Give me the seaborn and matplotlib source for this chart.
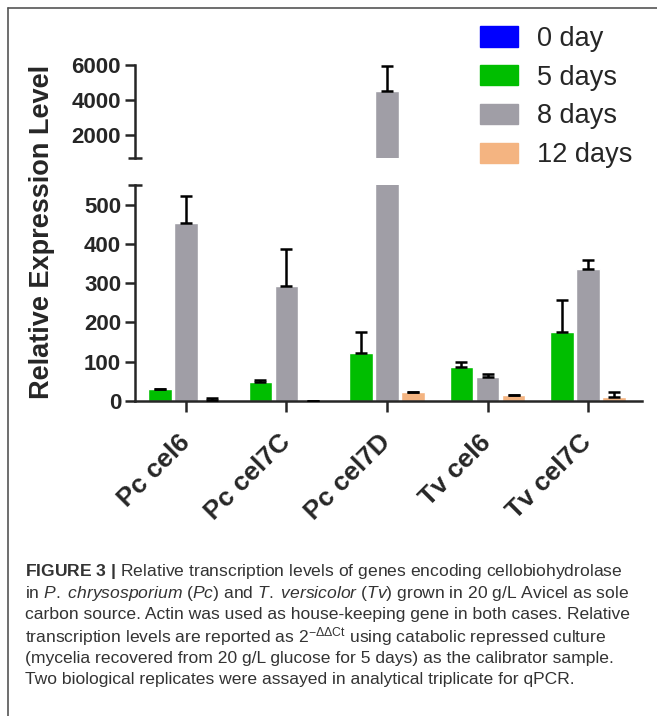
import numpy as np
import pandas as pd
import matplotlib
matplotlib.use("Agg")
import matplotlib.pyplot as plt
import seaborn as sns
from matplotlib.patches import Patch
from matplotlib.lines import Line2D
from matplotlib.ticker import FixedLocator

# ---- data -------------------------------------------------------------
GENES = ["Pc cel6", "Pc cel7C", "Pc cel7D", "Tv cel6", "Tv cel7C"]
DAYS = ["0 day", "5 days", "8 days", "12 days"]
COLORS = ["#0000FF", "#00BE00", "#A09EA6", "#F4B481"]

# relative expression (2^-ddCt); day 0 is the calibrator level
DAY5 = [30, 49, 121, 87, 176]
DAY8 = [453, 294, 4500, 60, 335]
DAY12 = [3, 1, 24, 15, 11]
# upper error (SD)
DAY5_ERR = [1, 4, 55, 13, 81]
DAY8_ERR = [69, 92, 1450, 10, 25]
DAY12_ERR = [5, 0, 0, 1.5, 13]

LOW_TICKS = [0, 100, 200, 300, 400, 500]
HIGH_TICKS = [2000, 4000, 6000]

CAPTION = [
    r"$\bf{FIGURE}$ $\bf{3}$ $\bf{|}$ Relative transcription levels of genes encoding cellobiohydrolase",
    r"in $\it{P.}$ $\it{chrysosporium}$ ($\it{Pc}$) and $\it{T.}$ $\it{versicolor}$ ($\it{Tv}$) grown in 20 g/L Avicel as sole",
    "carbon source. Actin was used as house-keeping gene in both cases. Relative",
    r"transcription levels are reported as 2$^{-\Delta\Delta\mathrm{Ct}}$ using catabolic repressed culture",
    "(mycelia recovered from 20 g/L glucose for 5 days) as the calibrator sample.",
    "Two biological replicates were assayed in analytical triplicate for qPCR.",
]

# ---- style ------------------------------------------------------------
sns.set_style("ticks")
plt.rcParams["font.family"] = ["Liberation Sans", "DejaVu Sans"]
plt.rcParams["mathtext.fontset"] = "custom"
plt.rcParams["mathtext.rm"] = "Liberation Sans"
plt.rcParams["mathtext.it"] = "Liberation Sans:italic"
plt.rcParams["mathtext.bf"] = "Liberation Sans:bold"

W, H = 657, 716
fig = plt.figure(figsize=(W / 100, H / 100), dpi=100)
fig.patch.set_facecolor("white")

left, right = 135 / W, 642 / W
ax_low = fig.add_axes([left, 1 - 401 / H, right - left, (401 - 185) / H])
ax_high = fig.add_axes([left, 1 - 158 / H, right - left, (158 - 65) / H])

df = pd.DataFrame({
    "gene": GENES * 3,
    "day": [DAYS[1]] * 5 + [DAYS[2]] * 5 + [DAYS[3]] * 5,
    "value": DAY5 + DAY8 + DAY12,
})
errs = [DAY5_ERR, DAY8_ERR, DAY12_ERR]
vals = [DAY5, DAY8, DAY12]

LW = 1.8
for ax in (ax_low, ax_high):
    sns.barplot(data=df, x="gene", y="value", hue="day", hue_order=DAYS[1:],
                palette=COLORS[1:], width=0.78, gap=0.1, errorbar=None,
                saturation=1, legend=False, ax=ax, zorder=2)
    for cont, v, e in zip(ax.containers, vals, errs):
        xs = [b.get_x() + b.get_width() / 2 for b in cont]
        ax.errorbar(xs, v, yerr=[np.zeros(len(v)), e], fmt="none",
                    ecolor="black", elinewidth=LW, capsize=4.5, capthick=LW,
                    zorder=3)
    ax.set_xlim(-0.507, 4.537)
    ax.set_xlabel("")
    ax.set_ylabel("")
    for s in ("top", "right"):
        ax.spines[s].set_visible(False)
    for s in ("left", "bottom"):
        ax.spines[s].set_linewidth(LW)
    ax.tick_params(axis="y", which="major", length=7, width=LW, pad=3,
                   labelsize=16, direction="out")
    ax.tick_params(axis="y", which="minor", length=10, width=LW,
                   direction="inout")

# lower segment
ax_low.set_ylim(0, 550)
ax_low.set_yticks(LOW_TICKS)
ax_low.set_yticklabels([str(t) for t in LOW_TICKS], fontweight="bold", fontsize=16)
ax_low.yaxis.set_minor_locator(FixedLocator([550]))
ax_low.set_xticks(range(len(GENES)))
ax_low.set_xticklabels(GENES, rotation=45, ha="right", va="center",
                       rotation_mode="anchor", fontsize=19, fontweight="bold")
ax_low.tick_params(axis="x", length=8, width=LW, pad=19)

# upper segment
ax_high.set_ylim(700, 6000)
ax_high.set_yticks(HIGH_TICKS)
ax_high.set_yticklabels([str(t) for t in HIGH_TICKS], fontweight="bold", fontsize=16)
ax_high.yaxis.set_minor_locator(FixedLocator([700]))
ax_high.spines["bottom"].set_visible(False)
ax_high.set_xticks([])
ax_high.patch.set_alpha(0)

# axis title
fig.text(42 / W, 1 - 232 / H, "Relative Expression Level", rotation=90,
         ha="center", va="center", fontsize=19.5, fontweight="bold")

# legend
handles = [Patch(facecolor=c, edgecolor=c) for c in COLORS]
fig.legend(handles, DAYS, loc="upper left",
           bbox_to_anchor=(480 / W, 1 - 26 / H), frameon=False,
           fontsize=19.5, handlelength=1.4, handleheight=0.78,
           handletextpad=0.7, labelspacing=0.47, borderpad=0,
           borderaxespad=0)

# caption
ys = [571.7, 593.3, 615, 636.7, 658.3, 679.3]
for y, line in zip(ys, CAPTION):
    fig.text(25 / W, 1 - y / H, line, ha="left", va="center",
             fontsize=12.6, color="#333333")

# panel frame
frame = dict(color="#555555", lw=1.2, transform=fig.transFigure)
fig.add_artist(Line2D([8 / W, 1], [1 - 8 / H, 1 - 8 / H], **frame))
fig.add_artist(Line2D([8 / W, 8 / W], [1 - 8 / H, 0], **frame))

fig.savefig("out.png", dpi=100)
